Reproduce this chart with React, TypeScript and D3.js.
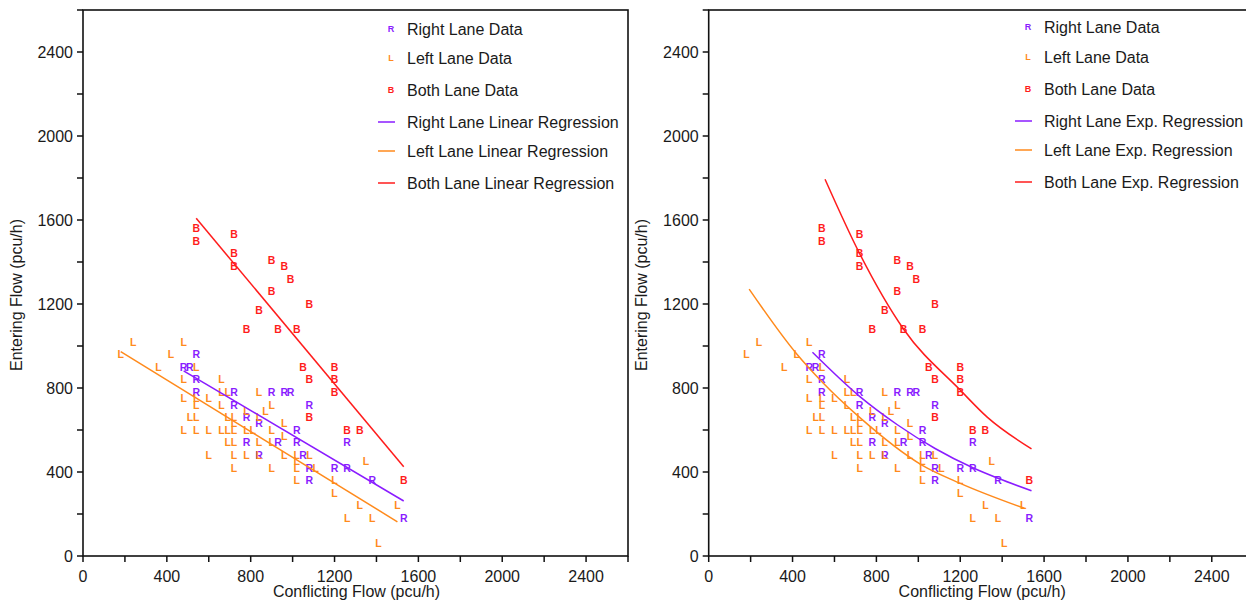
import React from 'react';
import * as d3 from 'd3';

// ---------- data ----------
const rightLane: [number, number][] = [
  [540, 960], [480, 900], [510, 900], [540, 840], [540, 780], [720, 780], [720, 720],
  [900, 780], [960, 780], [990, 780], [1080, 720], [780, 660], [840, 630], [1020, 600],
  [780, 540], [930, 540], [1020, 540], [840, 480], [1050, 480], [1080, 420], [1200, 420],
  [1260, 420], [1080, 360], [1260, 540], [1380, 360], [1530, 180],
];

const leftLane: [number, number][] = [
  [240, 1020], [480, 1020],
  [180, 960], [420, 960],
  [360, 900], [540, 900],
  [480, 840], [660, 840],
  [660, 780], [690, 780], [840, 780],
  [480, 750], [540, 750], [600, 750],
  [540, 720], [660, 720], [900, 720],
  [780, 690], [870, 690],
  [510, 660], [540, 660], [690, 660], [720, 660], [840, 660],
  [720, 630], [960, 630],
  [480, 600], [540, 600], [600, 600], [660, 600], [690, 600], [720, 600], [780, 600], [810, 600], [900, 600],
  [960, 570],
  [690, 540], [720, 540], [840, 540], [900, 540],
  [600, 480], [720, 480], [780, 480], [840, 480], [960, 480], [1020, 480], [1080, 480],
  [1020, 450], [1350, 450],
  [720, 420], [900, 420], [1020, 420], [1110, 420],
  [1020, 360], [1200, 360],
  [1200, 300],
  [1320, 240], [1500, 240],
  [1260, 180], [1380, 180],
  [1410, 60],
];

const bothLane: [number, number][] = [
  [540, 1560], [540, 1500], [720, 1530], [720, 1440], [720, 1380], [900, 1410], [960, 1380],
  [990, 1320], [900, 1260], [1080, 1200], [840, 1170], [780, 1080], [930, 1080], [1020, 1080],
  [1050, 900], [1200, 900], [1080, 840], [1200, 840], [1200, 780], [1080, 660], [1260, 600],
  [1320, 600], [1530, 360],
];

// regression curves, points
const rightLinear: [number, number][] = [[480, 882], [1530, 262]];
const leftLinear: [number, number][] = [[180, 973], [1500, 163]];
const bothLinear: [number, number][] = [[540, 1608], [1530, 425]];

const rightExp: [number, number][] = [[495, 970], [720, 760], [900, 625], [1080, 512], [1260, 420], [1380, 370], [1540, 311]];
const leftExp: [number, number][] = [[193, 1271], [420, 962], [540, 830], [720, 660], [1017, 433], [1200, 346], [1506, 227]];
const bothExp: [number, number][] = [[555, 1794], [720, 1440], [930, 1080], [1200, 790], [1330, 660], [1540, 510]];

const majorTicks = [0, 400, 800, 1200, 1600, 2000, 2400];
const minorTicks = [200, 600, 1000, 1400, 1800, 2200, 2600];

const leftLegendLabels = ['Right Lane Data', 'Left Lane Data', 'Both Lane Data',
  'Right Lane Linear Regression', 'Left Lane Linear Regression', 'Both Lane Linear Regression'];
const rightLegendLabels = ['Right Lane Data', 'Left Lane Data', 'Both Lane Data',
  'Right Lane Exp. Regression', 'Left Lane Exp. Regression', 'Both Lane Exp. Regression'];

const xTitle = 'Conflicting Flow (pcu/h)';
const yTitle = 'Entering Flow (pcu/h)';

// ---------- styling ----------
const PURPLE = '#8a1cff';
const ORANGE = '#ff8a1c';
const RED = '#ff1c1c';
const FONT = '"Liberation Sans", Arial, Helvetica, sans-serif';
const TEXT = '#1a1a1a';
const FS = 16;

type PanelProps = {
  left: number;
  right: number;
  legendMarkerX: number;
  legendTextX: number;
  legendRows: number[];
  legendLabels: string[];
  curves: [number, number][][];
  curveType: 'linear' | 'smooth';
  yTitleX: number;
};

function Panel(p: PanelProps) {
  const x = d3.scaleLinear().domain([0, 2600]).range([p.left, p.right]);
  const y = d3.scaleLinear().domain([0, 2600]).range([556, 10]);
  const line = d3.line<[number, number]>()
    .x(d => x(d[0]))
    .y(d => y(d[1]))
    .curve(p.curveType === 'linear' ? d3.curveLinear : d3.curveMonotoneX);
  const allTicks = [...majorTicks, ...minorTicks];
  const colors = [PURPLE, ORANGE, RED];
  const markers = ['R', 'L', 'B'];
  const series = [rightLane, leftLane, bothLane];
  const x0 = x(0), y0 = y(0);
  return (
    <g>
      {/* data */}
      {series.map((s, si) => (
        <g key={si}>
          {s.map((d, i) => (
            <text key={i} x={x(d[0])} y={y(d[1])} dy="0.36em" textAnchor="middle"
              fontFamily={FONT} fontSize={10.5} fontWeight="bold" fill={colors[si]}>
              {markers[si]}
            </text>
          ))}
        </g>
      ))}
      {/* regression curves */}
      {p.curves.map((c, i) => (
        <path key={i} d={line(c) || ''} fill="none" stroke={colors[i]} strokeWidth={1.5} />
      ))}
      {/* frame */}
      <rect x={x0} y={y(2600)} width={x(2600) - x0} height={y0 - y(2600)} fill="none" stroke="#111" strokeWidth={1.6} />
      {/* ticks */}
      {allTicks.map(t => (
        <g key={'t' + t}>
          <line x1={x(t)} x2={x(t)} y1={y0} y2={y0 + 6} stroke="#111" strokeWidth={1.5} />
          <line x1={x0 - 6} x2={x0} y1={y(t)} y2={y(t)} stroke="#111" strokeWidth={1.5} />
        </g>
      ))}
      {majorTicks.map(t => (
        <g key={'l' + t}>
          <text x={x(t)} y={582} textAnchor="middle" fontFamily={FONT} fontSize={FS} fill={TEXT}>{t}</text>
          <text x={x0 - 10} y={y(t)} dy="0.36em" textAnchor="end" fontFamily={FONT} fontSize={FS} fill={TEXT}>{t}</text>
        </g>
      ))}
      {/* axis titles */}
      <text x={(x0 + x(2600)) / 2 + 1} y={597} textAnchor="middle" fontFamily={FONT} fontSize={FS} fill={TEXT}>{xTitle}</text>
      <text transform={`translate(${p.yTitleX},295) rotate(-90)`} textAnchor="middle" dy="0.36em"
        fontFamily={FONT} fontSize={FS} fill={TEXT}>{yTitle}</text>
      {/* legend */}
      {p.legendLabels.map((lab, i) => (
        <g key={'lg' + i}>
          {i < 3 ? (
            <text x={p.legendMarkerX} y={p.legendRows[i]} dy="0.36em" textAnchor="middle"
              fontFamily={FONT} fontSize={9} fontWeight="bold" fill={colors[i]}>{markers[i]}</text>
          ) : (
            <line x1={p.legendMarkerX - 13} x2={p.legendMarkerX + 4} y1={p.legendRows[i]} y2={p.legendRows[i]}
              stroke={colors[i - 3]} strokeWidth={1.5} />
          )}
          <text x={p.legendTextX} y={p.legendRows[i]} dy="0.36em" fontFamily={FONT} fontSize={FS} fill={TEXT}>{lab}</text>
        </g>
      ))}
    </g>
  );
}

export default function App() {
  return (
    <div style={{ position: 'absolute', left: 0, top: 0, width: 1246, height: 600, overflow: 'hidden', background: '#fff' }}>
      <svg width={1246} height={600} style={{ display: 'block' }}>
        <rect width={1246} height={600} fill="#fff" />
        <Panel left={83} right={628} legendMarkerX={391} legendTextX={407}
          legendRows={[29, 58, 90, 122, 151, 183]} legendLabels={leftLegendLabels}
          curves={[rightLinear, leftLinear, bothLinear]} curveType="linear" yTitleX={16} />
        <Panel left={708.7} right={1253.7} legendMarkerX={1028} legendTextX={1044}
          legendRows={[27, 57, 89, 121, 150, 182]} legendLabels={rightLegendLabels}
          curves={[rightExp, leftExp, bothExp]} curveType="smooth" yTitleX={641} />
      </svg>
    </div>
  );
}
